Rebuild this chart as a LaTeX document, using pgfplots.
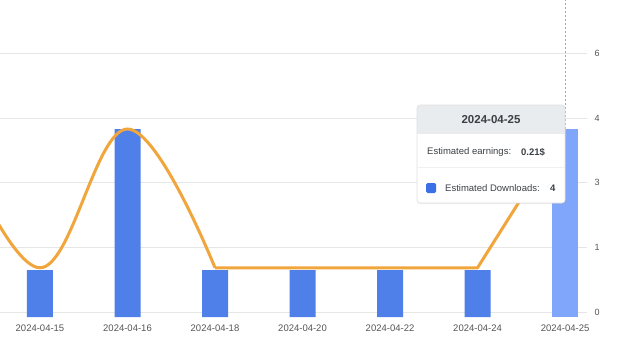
\documentclass[border=0pt]{standalone}
\usepackage{pgfplots}
\pgfplotsset{compat=1.18}
\usepackage{fontspec}
\setmainfont{Liberation Sans}
\usetikzlibrary{shadows}
\definecolor{barblue}{RGB}{79,127,232}
\definecolor{barhl}{RGB}{127,166,250}
\definecolor{lineorange}{RGB}{240,166,60}
\definecolor{gridgray}{RGB}{230,230,230}
\definecolor{ticktext}{RGB}{85,85,85}
\definecolor{tipheader}{RGB}{233,236,239}
\definecolor{tiptext}{RGB}{60,64,68}
\definecolor{tipblue}{RGB}{59,111,232}

\pgfplotstableread{
x downloads
-1 4
0 1
1 4
2 1
3 1
4 1
5 1
}\downloadsdata

\begin{document}
\begin{tikzpicture}
\path[use as bounding box] (0pt,0pt) rectangle (617pt,359pt);
% bars axis (downloads)
\begin{axis}[
  at={(0pt,42pt)}, anchor=south west,
  scale only axis, width=587pt, height=317pt,
  xmin=-0.457, xmax=6.251, ymin=0, ymax=6.745,
  clip=true,
  axis line style={draw=none},
  major tick length=0pt,
  xtick={0,1,2,3,4,5,6},
  xticklabels={2024-04-15,2024-04-16,2024-04-18,2024-04-20,2024-04-22,2024-04-24,2024-04-25},
  xticklabel style={font=\fontsize{9.5}{11}\selectfont, text=ticktext, anchor=center, yshift=-11pt},
  ytick={0.106,1.489,2.872,4.234,5.617},
  yticklabels={0,1,3,4,6},
  yticklabel pos=right,
  yticklabel style={font=\fontsize{9}{10}\selectfont, text=ticktext, anchor=west, xshift=4pt},
  ymajorgrids, grid style={gridgray, line width=0.9pt},
  /pgf/number format/assume math mode=true,
]
\draw[gray!70, dashed, dash pattern=on 2pt off 2pt, line width=0.6pt] (axis cs:6,0) -- (axis cs:6,6.745);
\addplot[ybar, bar shift=0pt, bar width=26pt, fill=barblue, draw=none] table[x=x, y=downloads] {\downloadsdata};
\addplot[ybar, bar shift=0pt, bar width=26pt, fill=barhl, draw=none] coordinates {(6,4)};
\end{axis}
% line axis (earnings)
\begin{axis}[
  at={(0pt,42pt)}, anchor=south west,
  scale only axis, width=587pt, height=317pt,
  xmin=-0.457, xmax=6.251, ymin=0, ymax=0.3541,
  clip=true, hide axis,
]
\addplot[lineorange, line width=3pt, smooth, tension=0.65] coordinates {(-1,0.21) (0,0.055) (1,0.21) (2,0.055)};
\addplot[lineorange, line width=3pt, line join=round] coordinates {(2,0.055) (3,0.055) (4,0.055) (5,0.055) (6,0.21)};
\end{axis}
% tooltip
\fill[white, rounded corners=3pt, drop shadow={opacity=0.12, shadow xshift=0pt, shadow yshift=-1pt}] (417pt,156pt) rectangle (565pt,254pt);
\begin{scope}
\clip[rounded corners=3pt] (417pt,156pt) rectangle (565pt,254pt);
\fill[tipheader] (417pt,225pt) rectangle (565pt,254pt);
\end{scope}
\draw[gray!25, rounded corners=3pt, line width=0.6pt] (417pt,156pt) rectangle (565pt,254pt);
\draw[gray!12, line width=0.6pt] (417pt,192pt) -- (565pt,192pt);
\node[text=tiptext, font=\fontsize{11.5}{13}\selectfont\bfseries, inner sep=0pt] at (491pt,239pt) {2024-04-25};
\node[text=tiptext, font=\fontsize{9.5}{11}\selectfont, inner sep=0pt, anchor=west] at (427pt,207pt) {Estimated earnings:};
\node[text=tiptext, font=\fontsize{9.5}{11}\selectfont\bfseries, inner sep=0pt, anchor=west] at (521pt,207pt) {0.21\$};
\fill[tipblue, rounded corners=1.5pt] (426pt,166pt) rectangle (436pt,176pt);
\node[text=tiptext, font=\fontsize{9.5}{11}\selectfont, inner sep=0pt, anchor=west] at (445pt,171pt) {Estimated Downloads:};
\node[text=tiptext, font=\fontsize{9.5}{11}\selectfont\bfseries, inner sep=0pt, anchor=west] at (550pt,171pt) {4};
\end{tikzpicture}
\end{document}
